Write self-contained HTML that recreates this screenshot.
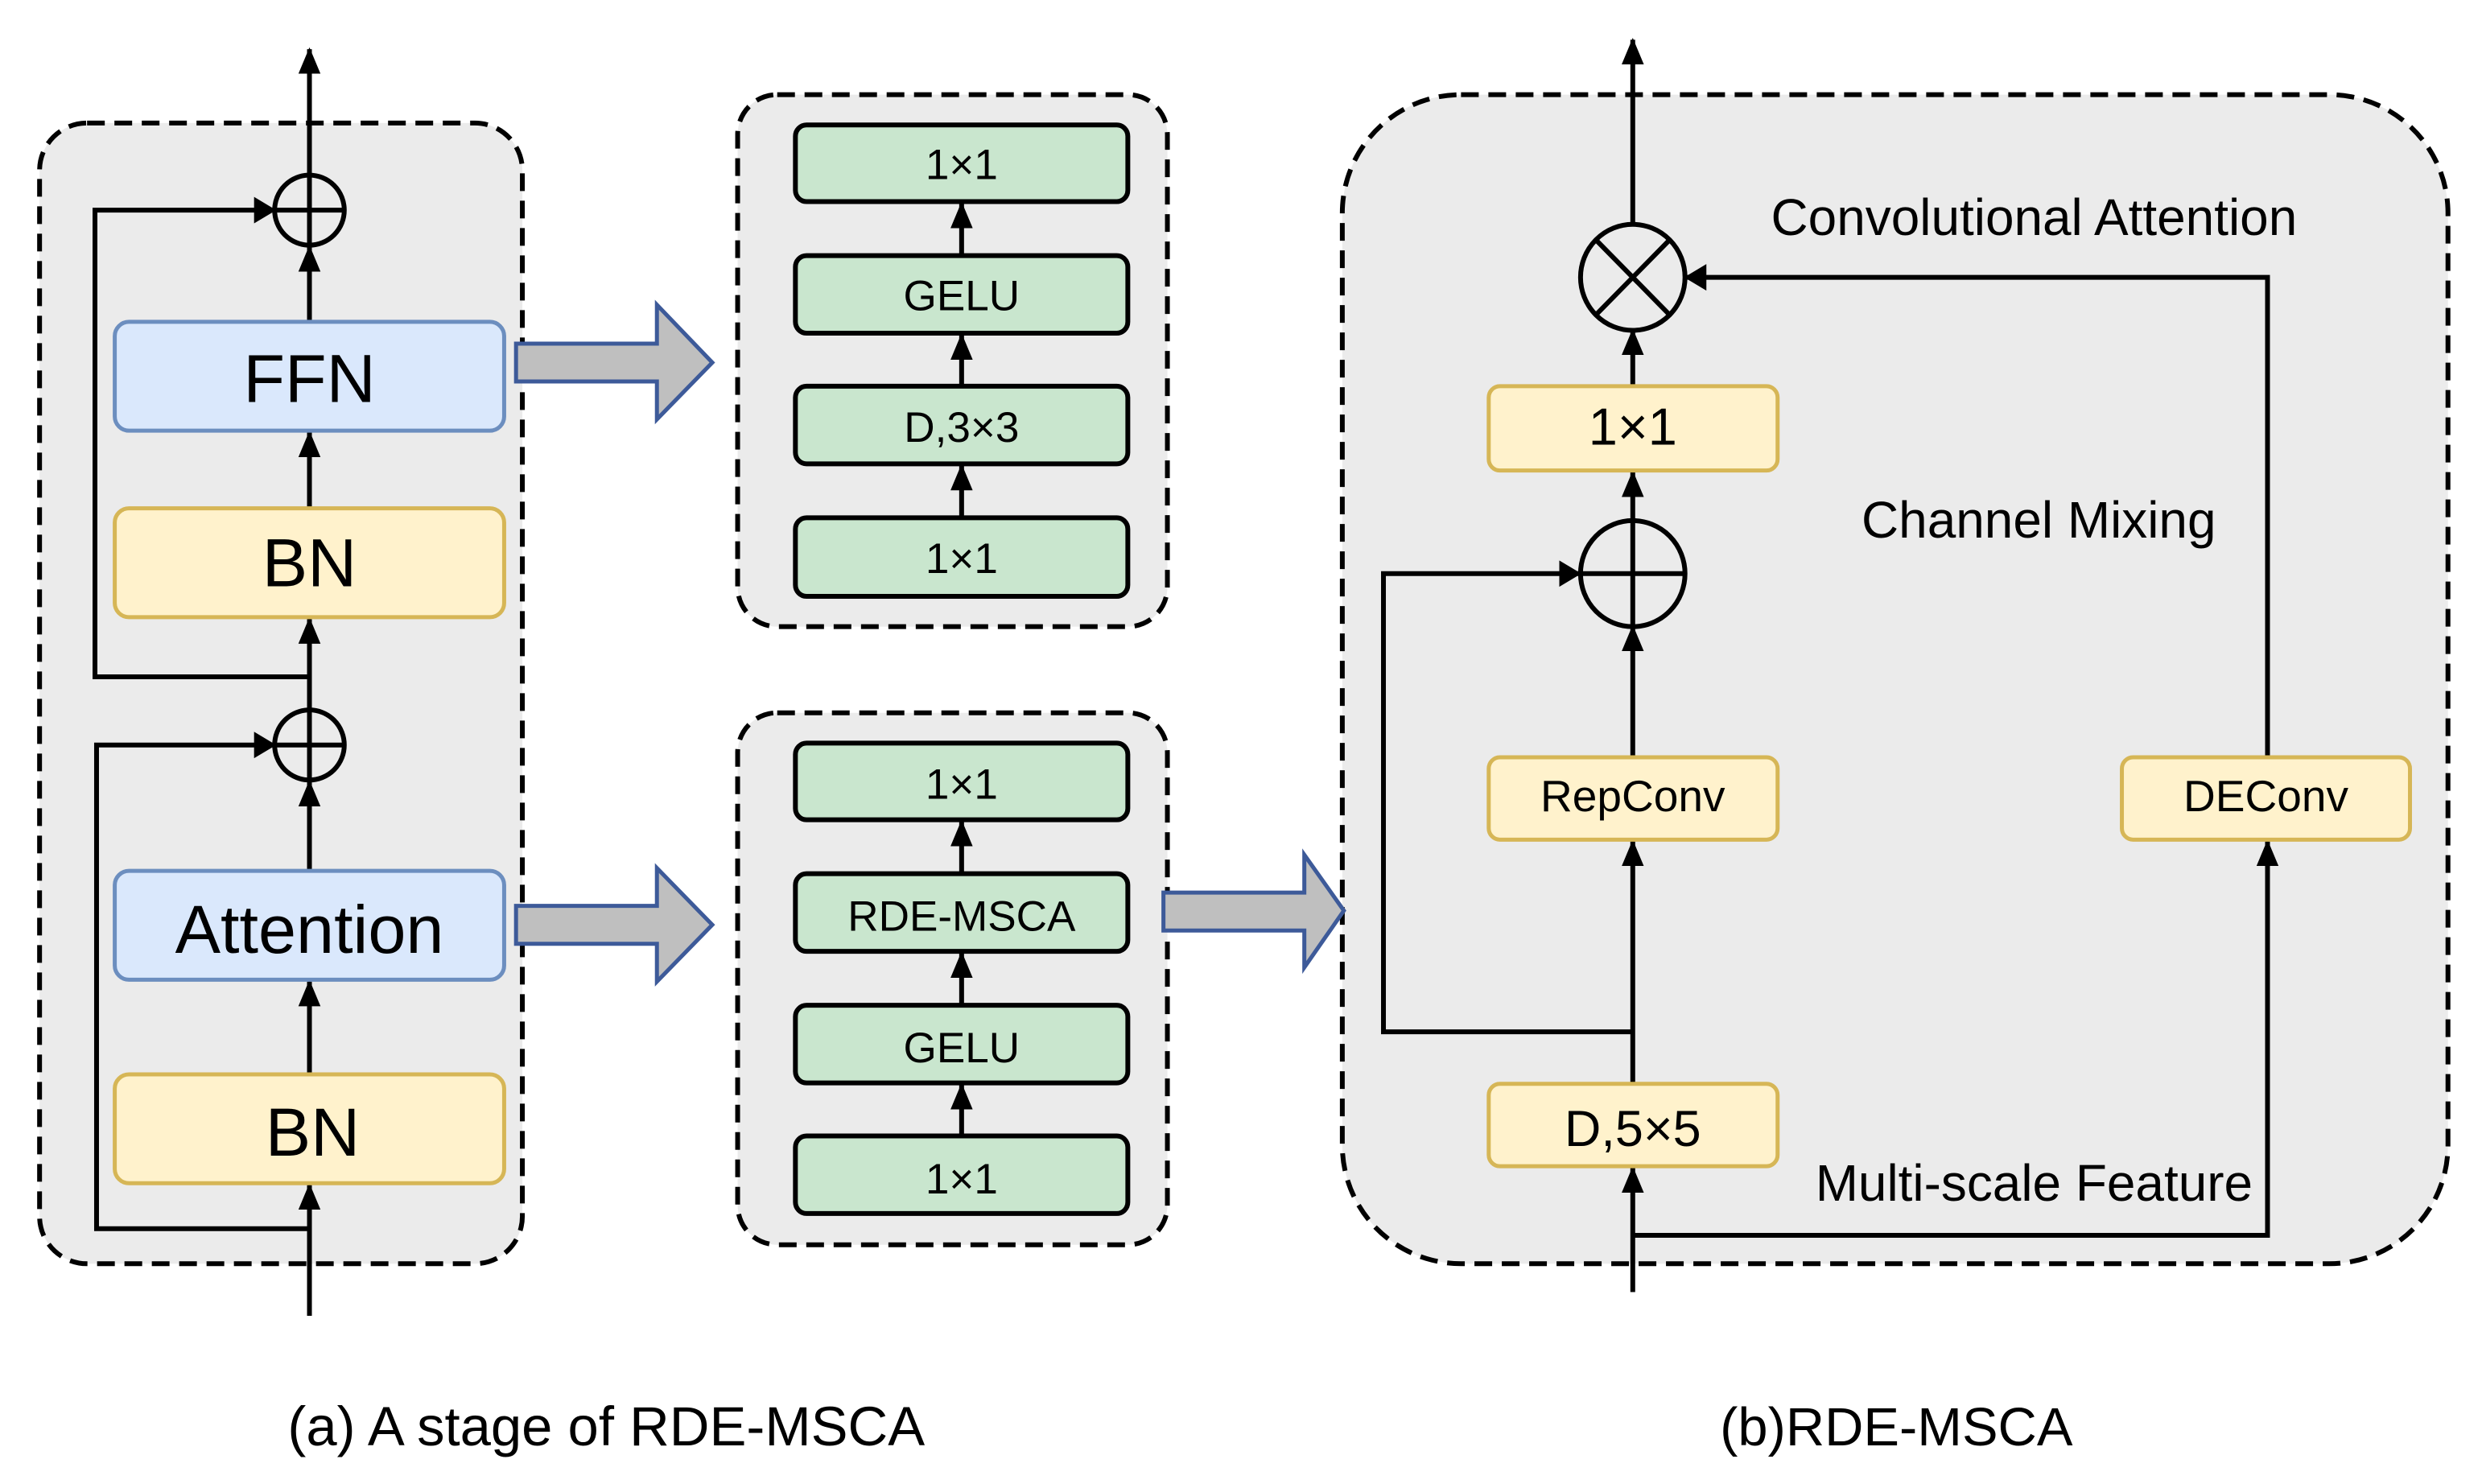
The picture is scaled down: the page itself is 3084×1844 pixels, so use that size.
<!DOCTYPE html>
<html><head><meta charset="utf-8"><style>html,body{margin:0;padding:0;background:#fff}svg{display:block}</style></head>
<body>
<svg width="3084" height="1844" viewBox="0 0 3136 1875" preserveAspectRatio="none" xmlns="http://www.w3.org/2000/svg" font-family="Liberation Sans, Arial, sans-serif">
<defs>
<marker id="a" markerUnits="userSpaceOnUse" markerWidth="28" markerHeight="28" refX="26" refY="14" orient="auto"><path d="M0,0 L28,14 L0,28 Z" fill="#000"/></marker>
</defs>
<rect width="3136" height="1875" fill="#fff"/>
<g transform="scale(1,1.196)">
<g fill="#ebebeb" stroke="#000" stroke-width="6" stroke-dasharray="22 12">
<rect vector-effect="non-scaling-stroke" x="50" y="130" width="610" height="1205" rx="60" ry="50"/>
<rect vector-effect="non-scaling-stroke" x="932" y="100" width="543" height="562" rx="50" ry="42"/>
<rect vector-effect="non-scaling-stroke" x="932" y="753" width="543" height="562" rx="50" ry="42"/>
<rect vector-effect="non-scaling-stroke" x="1696" y="100" width="1397" height="1235" rx="150" ry="125"/>
</g>
<g fill="#bfbfbf" stroke="#3d5a99" stroke-width="5">
<path vector-effect="non-scaling-stroke" d="M652,363 H830 V322 L900,383 L830,443 V403 H652 Z"/>
<path vector-effect="non-scaling-stroke" d="M652,957 H830 V917 L900,977 L830,1037 V997 H652 Z"/>
<path vector-effect="non-scaling-stroke" d="M1470,943 H1648 V903 L1698,962 L1648,1022 V983 H1470 Z"/>
</g>
<g stroke="#000" stroke-width="6" fill="none">
<line vector-effect="non-scaling-stroke" x1="391" y1="1390" x2="391" y2="1252" marker-end="url(#a)"/>
<line vector-effect="non-scaling-stroke" x1="391" y1="1135" x2="391" y2="1037" marker-end="url(#a)"/>
<line vector-effect="non-scaling-stroke" x1="391" y1="920" x2="391" y2="826" marker-end="url(#a)"/>
<line vector-effect="non-scaling-stroke" x1="391" y1="750" x2="391" y2="654" marker-end="url(#a)"/>
<line vector-effect="non-scaling-stroke" x1="391" y1="537" x2="391" y2="457" marker-end="url(#a)"/>
<line vector-effect="non-scaling-stroke" x1="391" y1="340" x2="391" y2="261" marker-end="url(#a)"/>
<line vector-effect="non-scaling-stroke" x1="391" y1="185" x2="391" y2="52" marker-end="url(#a)"/>
<polyline vector-effect="non-scaling-stroke" points="391,715 120,715 120,222 347,222" marker-end="url(#a)"/>
<polyline vector-effect="non-scaling-stroke" points="391,1298 122,1298 122,787 347,787" marker-end="url(#a)"/>
<ellipse vector-effect="non-scaling-stroke" cx="391" cy="222" rx="44" ry="37"/><line vector-effect="non-scaling-stroke" x1="347" y1="222" x2="435" y2="222"/><line vector-effect="non-scaling-stroke" x1="391" y1="185" x2="391" y2="259"/>
<ellipse vector-effect="non-scaling-stroke" cx="391" cy="787" rx="44" ry="37"/><line vector-effect="non-scaling-stroke" x1="347" y1="787" x2="435" y2="787"/><line vector-effect="non-scaling-stroke" x1="391" y1="750" x2="391" y2="824"/>
</g>
<g stroke-width="5">
<rect vector-effect="non-scaling-stroke" x="145" y="340" width="492" height="115" rx="18" ry="15" fill="#dae8fc" stroke="#6c8ebf"/>
<rect vector-effect="non-scaling-stroke" x="145" y="537" width="492" height="115" rx="18" ry="15" fill="#fff2cc" stroke="#d6b656"/>
<rect vector-effect="non-scaling-stroke" x="145" y="920" width="492" height="115" rx="18" ry="15" fill="#dae8fc" stroke="#6c8ebf"/>
<rect vector-effect="non-scaling-stroke" x="145" y="1135" width="492" height="115" rx="18" ry="15" fill="#fff2cc" stroke="#d6b656"/>
</g>
<g stroke="#000" stroke-width="6">
<line vector-effect="non-scaling-stroke" x1="1215" y1="270" x2="1215" y2="215" marker-end="url(#a)"/>
<line vector-effect="non-scaling-stroke" x1="1215" y1="408" x2="1215" y2="354" marker-end="url(#a)"/>
<line vector-effect="non-scaling-stroke" x1="1215" y1="547" x2="1215" y2="492" marker-end="url(#a)"/>
<line vector-effect="non-scaling-stroke" x1="1215" y1="923" x2="1215" y2="868" marker-end="url(#a)"/>
<line vector-effect="non-scaling-stroke" x1="1215" y1="1062" x2="1215" y2="1007" marker-end="url(#a)"/>
<line vector-effect="non-scaling-stroke" x1="1215" y1="1200" x2="1215" y2="1146" marker-end="url(#a)"/>
</g>
<g fill="#c9e6ce" stroke="#000" stroke-width="6">
<rect vector-effect="non-scaling-stroke" x="1005" y="132" width="420" height="81" rx="14" ry="12"/>
<rect vector-effect="non-scaling-stroke" x="1005" y="270" width="420" height="82" rx="14" ry="12"/>
<rect vector-effect="non-scaling-stroke" x="1005" y="408" width="420" height="82" rx="14" ry="12"/>
<rect vector-effect="non-scaling-stroke" x="1005" y="547" width="420" height="83" rx="14" ry="12"/>
<rect vector-effect="non-scaling-stroke" x="1005" y="785" width="420" height="81" rx="14" ry="12"/>
<rect vector-effect="non-scaling-stroke" x="1005" y="923" width="420" height="82" rx="14" ry="12"/>
<rect vector-effect="non-scaling-stroke" x="1005" y="1062" width="420" height="82" rx="14" ry="12"/>
<rect vector-effect="non-scaling-stroke" x="1005" y="1200" width="420" height="82" rx="14" ry="12"/>
</g>
<g stroke="#000" stroke-width="6" fill="none">
<line vector-effect="non-scaling-stroke" x1="2063" y1="1365" x2="2063" y2="1234" marker-end="url(#a)"/>
<line vector-effect="non-scaling-stroke" x1="2063" y1="1145" x2="2063" y2="889" marker-end="url(#a)"/>
<line vector-effect="non-scaling-stroke" x1="2063" y1="800" x2="2063" y2="662" marker-end="url(#a)"/>
<line vector-effect="non-scaling-stroke" x1="2063" y1="550" x2="2063" y2="499" marker-end="url(#a)"/>
<line vector-effect="non-scaling-stroke" x1="2063" y1="408" x2="2063" y2="349" marker-end="url(#a)"/>
<line vector-effect="non-scaling-stroke" x1="2063" y1="237" x2="2063" y2="42" marker-end="url(#a)"/>
<polyline vector-effect="non-scaling-stroke" points="2063,1090 1748,1090 1748,606 1996,606" marker-end="url(#a)"/>
<polyline vector-effect="non-scaling-stroke" points="2063,1305 2865,1305 2865,889" marker-end="url(#a)"/>
<polyline vector-effect="non-scaling-stroke" points="2865,800 2865,293 2130,293" marker-end="url(#a)"/>
<ellipse vector-effect="non-scaling-stroke" cx="2063" cy="293" rx="66" ry="56"/>
<line vector-effect="non-scaling-stroke" x1="2016" y1="253" x2="2110" y2="333"/><line vector-effect="non-scaling-stroke" x1="2016" y1="333" x2="2110" y2="253"/>
<ellipse vector-effect="non-scaling-stroke" cx="2063" cy="606" rx="66" ry="56"/>
<line vector-effect="non-scaling-stroke" x1="1997" y1="606" x2="2129" y2="606"/><line vector-effect="non-scaling-stroke" x1="2063" y1="550" x2="2063" y2="662"/>
</g>
<g fill="#fff2cc" stroke="#d6b656" stroke-width="5">
<rect vector-effect="non-scaling-stroke" x="1881" y="408" width="365" height="89" rx="14" ry="12"/>
<rect vector-effect="non-scaling-stroke" x="1881" y="800" width="365" height="87" rx="14" ry="12"/>
<rect vector-effect="non-scaling-stroke" x="2681" y="800" width="364" height="87" rx="14" ry="12"/>
<rect vector-effect="non-scaling-stroke" x="1881" y="1145" width="365" height="87" rx="14" ry="12"/>
</g>
</g>
<g font-size="86" text-anchor="middle" fill="#000">
<text x="391" y="508">FFN</text>
<text x="391" y="741">BN</text>
<text x="391" y="1204">Attention</text>
<text x="395" y="1460">BN</text>
</g>
<g font-size="54" text-anchor="middle" fill="#000">
<text x="1215" y="226">1×1</text>
<text x="1215" y="392">GELU</text>
<text x="1215" y="558">D,3×3</text>
<text x="1215" y="724">1×1</text>
<text x="1215" y="1009">1×1</text>
<text x="1215" y="1176">RDE-MSCA</text>
<text x="1215" y="1342">GELU</text>
<text x="1215" y="1508">1×1</text>
</g>
<g text-anchor="middle" fill="#000">
<text x="2063" y="562" font-size="66">1×1</text>
<text x="2063" y="1025" font-size="56">RepConv</text>
<text x="2863" y="1025" font-size="56">DEConv</text>
<text x="2063" y="1448" font-size="64">D,5×5</text>
<text x="2570" y="297" font-size="65">Convolutional Attention</text>
<text x="2576" y="679" font-size="65">Channel Mixing</text>
<text x="2570" y="1517" font-size="65">Multi-scale Feature</text>
<text x="766" y="1826" font-size="70">(a)  A stage of RDE-MSCA</text>
<text x="2396" y="1826" font-size="68">(b)RDE-MSCA</text>
</g>
</svg>
</body></html>
